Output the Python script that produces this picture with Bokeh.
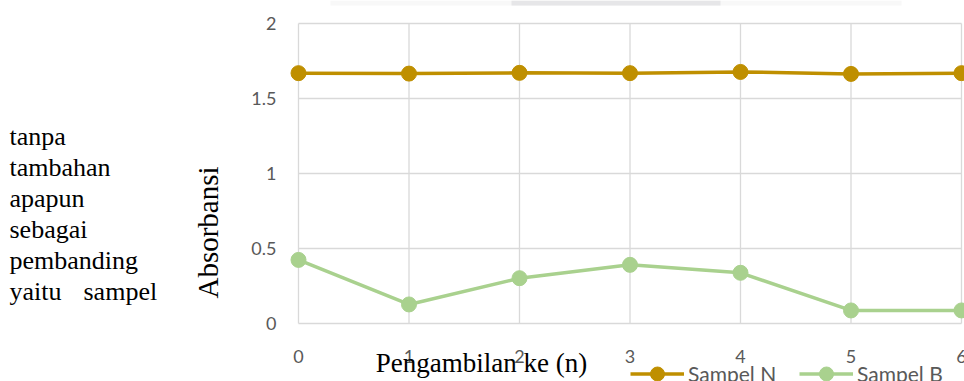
from math import pi

from bokeh.plotting import figure
from bokeh.models import Range1d, Label, Legend, LegendItem, BoxAnnotation
from bokeh.core.properties import value
from bokeh.embed import file_html
from bokeh.resources import INLINE

# --- data -----------------------------------------------------------------
pengambilan = [0, 1, 2, 3, 4, 5, 6]
sampel_n = [1.669, 1.666, 1.671, 1.669, 1.677, 1.664, 1.669]
sampel_b = [0.424, 0.127, 0.302, 0.391, 0.338, 0.087, 0.087]

x_ticks = [0, 1, 2, 3, 4, 5, 6]
x_tick_labels = ["0", "1", "2", "3", "4", "5", "6"]
y_ticks = [0, 0.5, 1, 1.5, 2]
y_tick_labels = ["0", "0.5", "1", "1.5", "2"]

side_text = ["tanpa", "tambahan", "apapun", "sebagai", "pembanding"]

# --- styling --------------------------------------------------------------
COLOR_N = "#bf8f00"
COLOR_B = "#a9d18e"
GRID = "#d9d9d9"
TICK_TXT = "#595959"
SERIF = "Liberation Serif"
SANS = "Lato"

# page geometry: x=0 sits 298px from the left, y=0 sits 323px from the top
X0_PX, PX_PER_X = 298.0, 110.5
Y0_PX, PX_PER_Y = 323.0, 150.0


def dx(px):
    return (px - X0_PX) / PX_PER_X


def dy(py):
    return (Y0_PX - py) / PX_PER_Y


W, H = 964, 381
p = figure(width=W, height=H, output_backend="svg", toolbar_location=None,
           x_range=Range1d(dx(0), dx(W)), y_range=Range1d(dy(H), dy(0)),
           x_axis_location=None, y_axis_location=None,
           min_border=0)
p.outline_line_color = None
p.xgrid.visible = False
p.ygrid.visible = False

# thin strip along the top edge
p.add_layout(BoxAnnotation(left=dx(330), right=dx(901), top=dy(0), bottom=dy(5),
                           fill_color="#f8f8f8", fill_alpha=1, line_color=None))
p.add_layout(BoxAnnotation(left=dx(511), right=dx(720), top=dy(0), bottom=dy(5),
                           fill_color="#e6e6e8", fill_alpha=1, line_color=None))

# grid lines bounded to the tick extent
p.segment(x0=[x_ticks[0]] * len(y_ticks), x1=[x_ticks[-1]] * len(y_ticks),
          y0=y_ticks, y1=y_ticks, line_color=GRID, line_width=1.3)
p.segment(x0=x_ticks, x1=x_ticks, y0=[y_ticks[0]] * len(x_ticks),
          y1=[y_ticks[-1]] * len(x_ticks), line_color=GRID, line_width=1.3)

# tick labels
p.text(x=x_ticks, y=[dy(356)] * len(x_ticks), text=x_tick_labels,
       text_font=value(SANS), text_font_size="18px", text_color=TICK_TXT,
       text_align="center", text_baseline="middle")
p.text(x=[dx(276)] * len(y_ticks), y=y_ticks, text=y_tick_labels,
       text_font=value(SANS), text_font_size="18px", text_color=TICK_TXT,
       text_align="right", text_baseline="middle")

# series
ln = p.line(pengambilan, sampel_n, line_color=COLOR_N, line_width=3.5)
sn = p.scatter(pengambilan, sampel_n, size=15, fill_color=COLOR_N, line_color=COLOR_N)
lb = p.line(pengambilan, sampel_b, line_color=COLOR_B, line_width=3.5)
sb = p.scatter(pengambilan, sampel_b, size=15, fill_color=COLOR_B, line_color=COLOR_B)

# axis titles
p.add_layout(Label(x=dx(481), y=dy(362), text="Pengambilan ke (n)",
                   text_font=SERIF, text_font_size="27px", text_color="black",
                   text_align="center", text_baseline="alphabetic"))
p.add_layout(Label(x=dx(207), y=dy(232), text="Absorbansi", angle=pi / 2,
                   text_font=SERIF, text_font_size="29px", text_color="black",
                   text_align="center", text_baseline="alphabetic"))

# running body text at the left
LINE0, LEAD = 136, 31
for i, word in enumerate(side_text):
    p.add_layout(Label(x=dx(9), y=dy(LINE0 + LEAD * i), text=word,
                       text_font=SERIF, text_font_size="26px", text_color="black",
                       text_align="left", text_baseline="alphabetic"))
for word, px in (("yaitu", 9), ("sampel", 83)):
    p.add_layout(Label(x=dx(px), y=dy(LINE0 + LEAD * 5), text=word,
                       text_font=SERIF, text_font_size="26px", text_color="black",
                       text_align="left", text_baseline="alphabetic"))

# legend beneath the plot area
legend = Legend(items=[LegendItem(label="Sampel N", renderers=[ln, sn]),
                       LegendItem(label="Sampel B", renderers=[lb, sb])],
                orientation="horizontal",
                location=(630, H - 390.5),
                glyph_width=54, glyph_height=35, label_standoff=4,
                label_width=92, spacing=19, padding=0, margin=0,
                border_line_color=None, background_fill_alpha=0,
                label_text_font=SANS, label_text_font_size="21px",
                label_text_color=TICK_TXT)
p.add_layout(legend)

open("out.html", "w").write(file_html(p, INLINE))
